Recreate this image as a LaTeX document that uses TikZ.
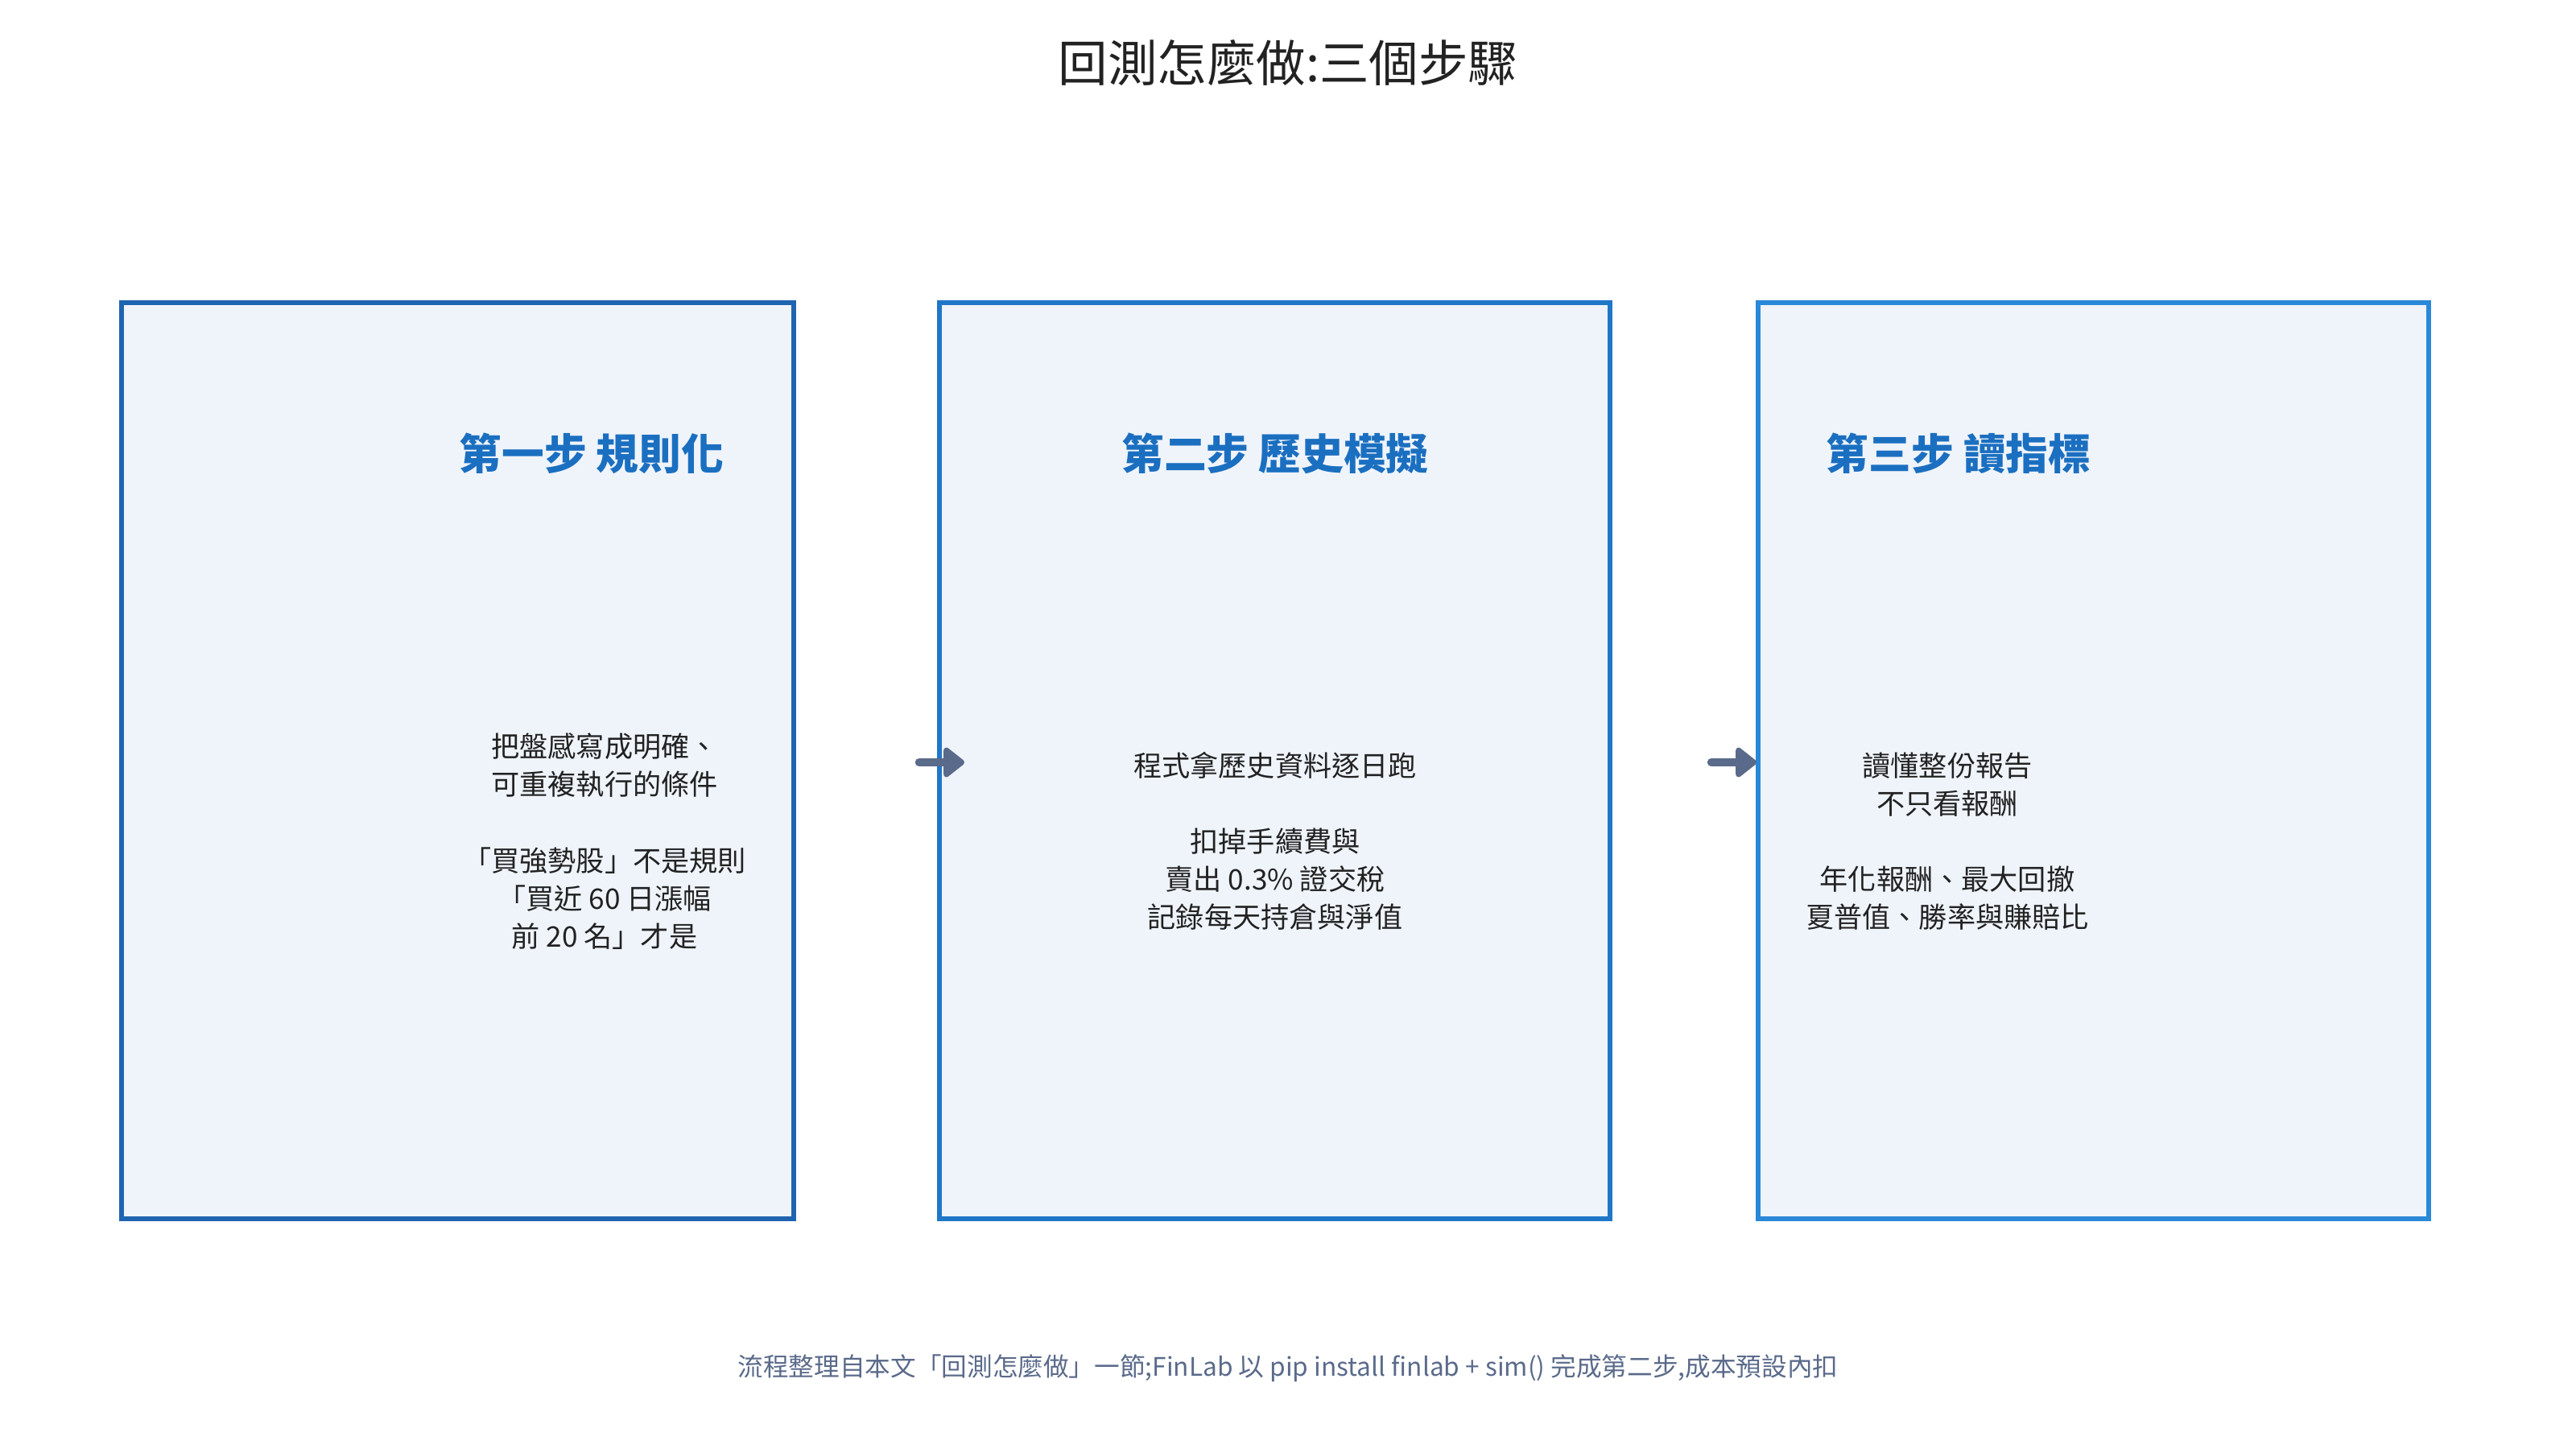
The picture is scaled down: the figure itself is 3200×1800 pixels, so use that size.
\documentclass[tikz,border=0pt]{standalone}
\usepackage{fontspec}
\setmainfont{Noto Sans CJK TC}
\usetikzlibrary{arrows.meta}
\definecolor{bA}{HTML}{1F64B0}
\definecolor{bB}{HTML}{1F77C8}
\definecolor{bC}{HTML}{2A88D8}
\definecolor{fillc}{HTML}{EFF4FB}
\definecolor{ttl}{HTML}{1B6FC0}
\definecolor{txt}{HTML}{222222}
\definecolor{grey}{HTML}{5A6A8A}
\begin{document}
\begin{tikzpicture}[x=0.01cm,y=-0.01cm,
  box/.style={draw,line width=1.7pt,fill=fillc},
  steptitle/.style={font=\fontsize{15}{18}\selectfont\bfseries,text=ttl},
  body/.style={font=\fontsize{10}{13.4}\selectfont,text=txt,align=center},
  arr/.style={draw=grey,line width=3pt,line cap=round,-{Triangle[length=8pt,width=12pt,round]}}]
\useasboundingbox (0,0) rectangle (3200,1800);
\node[font=\fontsize{17.5}{20}\selectfont,text=txt] (title) at (1600,78) {回測怎麼做:三個步驟};
\path[box,draw=bA] (151,376) rectangle (986,1514);
\path[box,draw=bB] (1167,376) rectangle (2000,1514);
\path[box,draw=bC] (2184,376) rectangle (3017,1514);
\node[steptitle] (t1) at (735,563) {第一步 規則化};
\node[steptitle] (t2) at (1584,563) {第二步 歷史模擬};
\node[steptitle] (t3) at (2433,563) {第三步 讀指標};
\node[body] (b1) at (751,1045) {把盤感寫成明確、\\可重複執行的條件\\[13.4pt]「買強勢股」不是規則\\「買近 60 日漲幅\\前 20 名」才是};
\node[body] (b2) at (1584,1045) {程式拿歷史資料逐日跑\\[13.4pt]扣掉手續費與\\賣出 0.3\% 證交稅\\記錄每天持倉與淨值};
\node[body] (b3) at (2419,1045) {讀懂整份報告\\不只看報酬\\[13.4pt]年化報酬、最大回撤\\夏普值、勝率與賺賠比};
\coordinate (a1s) at (1142,947); \coordinate (a1e) at (1198,947);
\coordinate (a2s) at (2126,947); \coordinate (a2e) at (2182,947);
\draw[arr] (a1s) -- (a1e);
\draw[arr] (a2s) -- (a2e);
\node[font=\fontsize{9}{11}\selectfont,text=grey] (foot) at (1600,1700) {流程整理自本文「回測怎麼做」一節;FinLab 以 pip install finlab + sim() 完成第二步,成本預設內扣};
\end{tikzpicture}
\end{document}
